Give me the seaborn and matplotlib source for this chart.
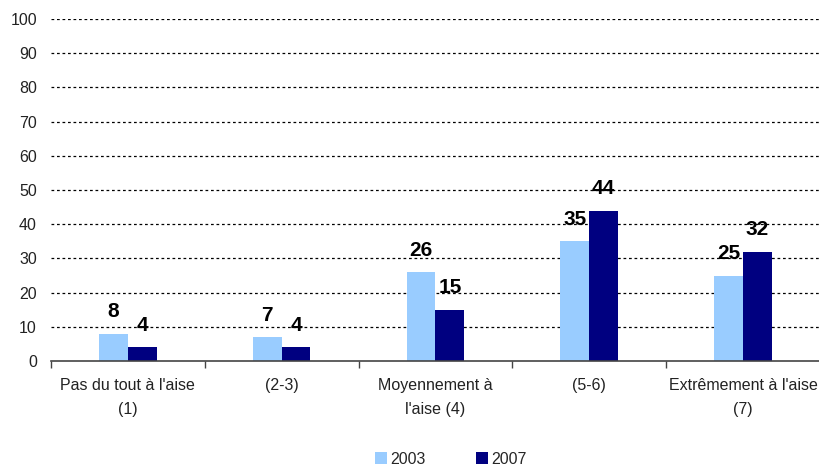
import matplotlib
matplotlib.use("Agg")
import matplotlib.pyplot as plt
import seaborn as sns
import pandas as pd
import numpy as np

categories = ["Pas du tout à l'aise\n(1)", "(2-3)", "Moyennement à\nl'aise (4)",
              "(5-6)", "Extrêmement à l'aise\n(7)"]
years = ["2003", "2007"]
values_2003 = [8, 7, 26, 35, 25]
values_2007 = [4, 4, 15, 44, 32]
y_ticks = [0, 10, 20, 30, 40, 50, 60, 70, 80, 90, 100]
colors = ["#99CCFF", "#000080"]

df = pd.DataFrame({
    "cat": categories * 2,
    "year": [years[0]] * len(categories) + [years[1]] * len(categories),
    "value": values_2003 + values_2007,
})

sns.set_theme(style="white")
plt.rcParams["font.family"] = ["Liberation Sans", "DejaVu Sans"]

fig = plt.figure(figsize=(8.2, 4.68), dpi=100)
ax = fig.add_axes([0.062, 0.2286, 0.938, 0.7308])

sns.barplot(data=df, x="cat", y="value", hue="year", palette=colors,
            width=0.375, gap=0, saturation=1, ax=ax, legend=True,
            edgecolor="none", linewidth=0)

ax.set_ylim(0, 100)
ax.set_xlim(-0.5, len(categories) - 0.5)
ax.set_yticks(y_ticks)
ax.set_yticklabels([str(t) for t in y_ticks], fontsize=11.5, color="#222222")
ax.tick_params(axis="y", length=0, pad=10)
ax.set_xlabel("")
ax.set_ylabel("")

# dotted gridlines
for t in y_ticks[1:]:
    ax.axhline(t, color="black", linestyle=(0, (2.2, 2.2)), linewidth=0.9, zorder=0)

for s in ["top", "right", "left"]:
    ax.spines[s].set_visible(False)
ax.spines["bottom"].set_color("#444444")
ax.spines["bottom"].set_linewidth(1.2)

ax.tick_params(axis="x", which="major", length=0, pad=12, labelsize=11.5,
               labelcolor="#222222")
for lbl in ax.get_xticklabels():
    lbl.set_linespacing(1.75)
ax.set_xticks(np.arange(-0.5, len(categories), 1.0), minor=True)
ax.tick_params(axis="x", which="minor", length=5, width=1, color="#444444",
               direction="out", bottom=True)

# value labels
for cont in ax.containers:
    ax.bar_label(cont, fmt="%d", fontsize=15, fontweight="bold", padding=9,
                 color="black")

leg = ax.legend(loc="center", bbox_to_anchor=(0.52, -0.287), ncol=2,
                frameon=False, fontsize=11.5, handlelength=0.75, handleheight=0.75,
                columnspacing=3.1, handletextpad=0.25, borderaxespad=0,
                borderpad=0)

fig.savefig("out.png", dpi=100)
